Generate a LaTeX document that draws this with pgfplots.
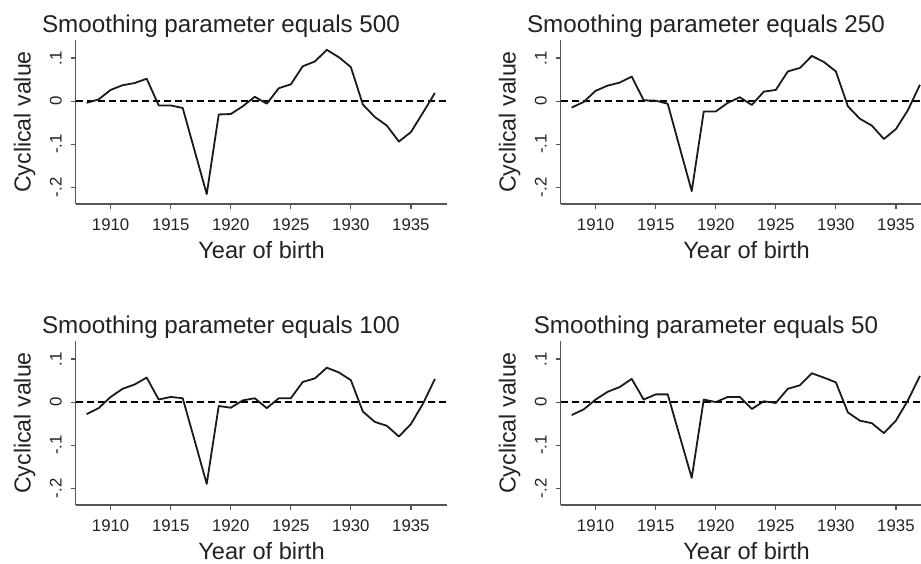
\documentclass[border=0pt]{standalone}
\usepackage{fontspec}
\setmainfont{Liberation Sans}
\usepackage{pgfplots}
\pgfplotsset{compat=1.18}
\definecolor{ln}{HTML}{1A1A1A}
\definecolor{ax}{HTML}{555555}
\definecolor{tx}{HTML}{222222}

\pgfplotsset{
  panel/.style={
    scale only axis, width=371.6pt, height=164pt,
    xmin=1907.09, xmax=1938.03, ymin=-0.239, ymax=0.142,
    axis x line=bottom, axis y line=left,
    axis line style={-, ax, line width=1.3pt},
    tick align=outside, major tick length=5pt,
    tick style={ax, line width=1.2pt},
    xtick={1910,1915,1920,1925,1930,1935},
    xticklabels={1910,1915,1920,1925,1930,1935},
    ytick={-0.2,-0.1,0,0.1},
    yticklabels={-.2,-.1,0,.1},
    xticklabel style={font=\fontsize{16.8}{18}\selectfont, text=tx, anchor=base, yshift=-21.5pt},
    yticklabel style={font=\fontsize{16.8}{18}\selectfont, text=tx, rotate=90, anchor=base},
    yticklabel shift=9pt,
    title style={at={(axis description cs:0.391,1)}, anchor=base, yshift=1.5pt,
      font=\fontsize{24.2}{28}\selectfont, text=tx},
    xlabel={Year of birth},
    ylabel={Cyclical value},
    xlabel style={at={(axis description cs:0.5,0)}, anchor=base, yshift=-54.5pt,
      font=\fontsize{23.6}{27}\selectfont, text=tx},
    ylabel style={at={(axis description cs:-0.1216,0.5)}, anchor=base, rotate=0,
      font=\fontsize{23.2}{27}\selectfont, text=tx},
    clip=false,
  },
  dataline/.style={ln, line width=1.8pt, line join=round, mark=none},
  zeroline/.style={black, line width=1.3pt, dash pattern=on 7pt off 4pt, mark=none},
}

\pgfplotstableread{
year v500 v250 v100 v50
1908 -0.004 -0.015 -0.028 -0.030
1909  0.004 -0.002 -0.014 -0.017
1910  0.026  0.024  0.012  0.006
1911  0.037  0.036  0.031  0.024
1912  0.042  0.043  0.041  0.035
1913  0.052  0.057  0.057  0.054
1914 -0.010  0.002  0.006  0.006
1915 -0.010  0.001  0.012  0.018
1916 -0.016 -0.006  0.009  0.018
1917 -0.116 -0.108 -0.090 -0.079
1918 -0.216 -0.209 -0.190 -0.176
1919 -0.031 -0.024 -0.009  0.006
1920 -0.030 -0.024 -0.013  0.000
1921 -0.012 -0.004  0.004  0.012
1922  0.010  0.009  0.009  0.012
1923 -0.006 -0.009 -0.014 -0.016
1924  0.030  0.022  0.009  0.002
1925  0.039  0.026  0.009 -0.002
1926  0.081  0.069  0.047  0.031
1927  0.092  0.077  0.055  0.039
1928  0.119  0.105  0.080  0.067
1929  0.102  0.091  0.069  0.057
1930  0.079  0.069  0.051  0.046
1931 -0.008 -0.012 -0.022 -0.024
1932 -0.037 -0.041 -0.046 -0.043
1933 -0.057 -0.057 -0.055 -0.049
1934 -0.094 -0.088 -0.080 -0.072
1935 -0.072 -0.065 -0.051 -0.043
1936 -0.027 -0.021 -0.004  0.004
1937  0.019  0.038  0.054  0.061
}\cyc

\begin{document}
\begin{tikzpicture}
\begin{axis}[panel, at={(75.7pt,360pt)}, anchor=south west,
  title={Smoothing parameter equals 500}]
  \addplot[zeroline] coordinates {(1907.09,0) (1938.03,0)};
  \addplot[dataline] table[x=year, y=v500] {\cyc};
\end{axis}
\begin{axis}[panel, at={(560.7pt,360pt)}, anchor=south west,
  title={Smoothing parameter equals 250}]
  \addplot[zeroline] coordinates {(1907.09,0) (1938.03,0)};
  \addplot[dataline] table[x=year, y=v250] {\cyc};
\end{axis}
\begin{axis}[panel, at={(75.7pt,59pt)}, anchor=south west,
  title={Smoothing parameter equals 100}]
  \addplot[zeroline] coordinates {(1907.09,0) (1938.03,0)};
  \addplot[dataline] table[x=year, y=v100] {\cyc};
\end{axis}
\begin{axis}[panel, at={(560.7pt,59pt)}, anchor=south west,
  title={Smoothing parameter equals 50}]
  \addplot[zeroline] coordinates {(1907.09,0) (1938.03,0)};
  \addplot[dataline] table[x=year, y=v50] {\cyc};
\end{axis}
\pgfresetboundingbox
\path[use as bounding box] (0,0) rectangle (921pt,564pt);
\end{tikzpicture}
\end{document}
